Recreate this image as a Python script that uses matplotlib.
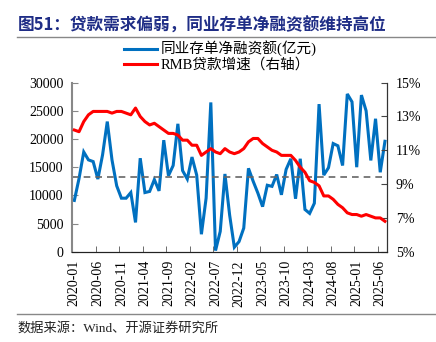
import numpy as np
import pandas as pd
import matplotlib
matplotlib.use("Agg")
import matplotlib.pyplot as plt
from matplotlib.lines import Line2D

plt.rcParams['font.family'] = ['Liberation Serif', 'Noto Sans CJK SC']

months = pd.period_range("2020-01", "2025-07", freq="M").strftime("%Y-%m").tolist()

ncd_financing = [9100, 13000, 17700, 16300, 16000, 12900, 17200, 23100, 16300, 11700,
                 9500, 9500, 10500, 5200, 16600, 10500, 10700, 12800, 10800, 19800,
                 13500, 15300, 22700, 14400, 12900, 16800, 13600, 3100, 9500, 26500,
                 200, 3600, 13800, 6500, 800, 1800, 4200, 14800, 12500, 10400,
                 8000, 11800, 11600, 13700, 10100, 14600, 16500, 9400, 16500, 7500,
                 6800, 8600, 26200, 13600, 14900, 19200, 18800, 15300, 28000, 26600,
                 15000, 27800, 25000, 16200, 23600, 14100, 19600]

loan_growth = [12.2, 12.1, 12.7, 13.1, 13.3, 13.3, 13.3, 13.3, 13.2, 13.3,
               13.3, 13.2, 13.1, 13.5, 13.0, 12.7, 12.5, 12.6, 12.4, 12.2,
               12.0, 12.0, 11.9, 11.6, 11.6, 11.3, 11.3, 10.7, 10.9, 11.1,
               10.9, 10.8, 11.1, 10.9, 10.8, 10.9, 11.1, 11.5, 11.7, 11.7,
               11.4, 11.2, 11.0, 10.9, 10.7, 10.7, 10.7, 10.4, 10.0, 9.7,
               9.2, 9.1, 8.9, 8.3, 8.3, 8.1, 7.8, 7.6, 7.3, 7.2,
               7.2, 7.1, 7.2, 7.1, 7.0, 7.0, 6.8]

avg_level = 13300

tick_labels = ["2020-01", "2020-06", "2020-11", "2021-04", "2021-09", "2022-02", "2022-07",
               "2022-12", "2023-05", "2023-10", "2024-03", "2024-08", "2025-01", "2025-06"]

fig = plt.figure(figsize=(4.36, 3.42), dpi=100)
ax = fig.add_axes([0.1651, 0.2640, 0.7232, 0.4942])
ax2 = ax.twinx()

x = np.arange(len(months))
ax.plot(x, ncd_financing, color="#0070C0", lw=2.2, solid_joinstyle="miter")
ax.axhline(avg_level, color="#666666", lw=1.2, ls=(0, (4, 3)))
ax2.plot(x, loan_growth, color="#FF0000", lw=2.2)

ax.set_xlim(-0.5, len(months) - 0.5)
ax.set_ylim(0, 30000)
ax.set_yticks(np.arange(0, 30001, 5000))
ax2.set_ylim(5, 15)
ax2.set_yticks([5, 7, 9, 11, 13, 15])
ax2.set_yticklabels(["5%", "7%", "9%", "11%", "13%", "15%"])

pos = [months.index(t) for t in tick_labels]
ax.set_xticks(pos)
ax.set_xticklabels(tick_labels, rotation=90)
ax.set_xticks([p - 0.5 for p in pos], minor=True)
ax.tick_params(axis="x", which="major", length=0, pad=6, labelsize=10)
ax.tick_params(axis="x", which="minor", direction="in", length=4, color="#555555")
ax.tick_params(axis="y", direction="in", length=4, color="#888888", labelsize=10, pad=6)
ax2.tick_params(axis="y", direction="in", length=4, color="#444444", labelsize=10, pad=6)

for a in (ax, ax2):
    a.spines["top"].set_visible(False)
ax.spines["left"].set_color("#888888")
ax.spines["left"].set_linewidth(1.5)
ax2.spines["left"].set_visible(False)
ax2.spines["right"].set_color("#333333")
ax2.spines["bottom"].set_color("#222222")
ax.spines["bottom"].set_color("#222222")

handles = [Line2D([], [], color="#0070C0", lw=2.2), Line2D([], [], color="#FF0000", lw=2.2)]
fig.legend(handles, ["同业存单净融资额(亿元)", "RMB贷款增速（右轴）"],
           loc="center", bbox_to_anchor=(0.505, 0.835), frameon=False, fontsize=10.5,
           handlelength=2.3, handletextpad=0.2, labelspacing=0.05)

fig.text(0.04, 0.925, "图51：贷款需求偏弱，同业存单净融资额维持高位", fontsize=12,
         fontweight="bold", color="#1F2D86", va="center", family=["Noto Sans CJK SC"])
fig.add_artist(Line2D([0.04, 1.0], [0.892, 0.892], color="#888888", lw=1))
fig.add_artist(Line2D([0.04, 1.0], [0.083, 0.083], color="#888888", lw=1))
fig.text(0.04, 0.04, "数据来源：Wind、开源证券研究所", fontsize=9.5, color="#222222", va="center")

fig.savefig("out.png", dpi=100)
